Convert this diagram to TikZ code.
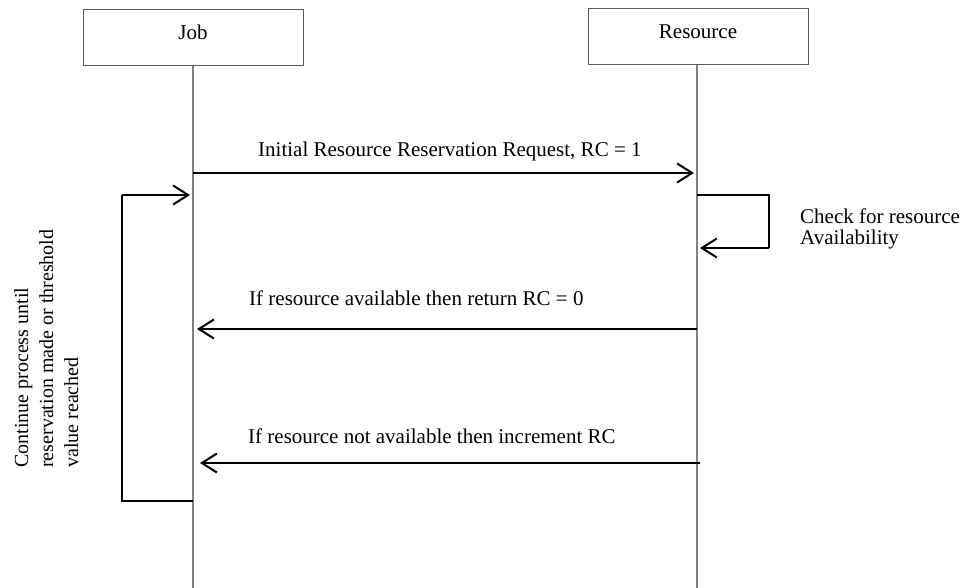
\documentclass[tikz,border=0pt]{standalone}
\usepackage{fontspec}
\setmainfont{Liberation Serif}
\usetikzlibrary{arrows.meta}
\definecolor{lifegray}{RGB}{128,128,128}
\definecolor{boxgray}{RGB}{90,90,90}
\begin{document}
\begin{tikzpicture}[x=1pt,y=-1pt,
  lane/.style={draw=boxgray, line width=1pt, minimum width=220pt, minimum height=56pt,
    inner sep=0pt, text height=14pt, text depth=10pt, font=\fontsize{21}{25}\selectfont},
  life/.style={draw=lifegray, line width=1.3pt},
  msg/.style={line width=2pt, -{Straight Barb[length=15pt,width=19pt,line width=2pt]}},
  loopline/.style={line width=1.1pt},
  lbl/.style={anchor=base west, inner sep=0pt, font=\fontsize{21}{25}\selectfont}]
\useasboundingbox (0,0) rectangle (965,588);

% lanes
\node[lane] (job) at (193,38) {Job};
\node[lane] (res) at (698,37) {Resource};
\coordinate (jobend) at (193,588);
\coordinate (resend) at (697,588);
\draw[life] (job.south) -- (jobend);
\draw[life] (res.south -| resend) -- (resend);

% message 1
\coordinate (m1s) at (193,173);
\coordinate (m1e) at (694,173);
\draw[msg] (m1s) -- (m1e);
\node[lbl] (l1) at (258,157) {Initial Resource Reservation Request, RC = 1};

% self loop on resource
\coordinate (s1) at (697,195);
\coordinate (s2) at (769,195);
\coordinate (s3) at (769,248);
\coordinate (s4) at (700,248);
\draw[loopline] (s1) -- (s2) -- (s3);
\draw[msg] (s3) -- (s4);
\node[lbl] (chk1) at (800,223) {Check for resource};
\node[lbl] (chk2) at (800,244) {Availability};

% message 2
\coordinate (m2s) at (697,329);
\coordinate (m2e) at (197,329);
\draw[msg] (m2s) -- (m2e);
\node[lbl] (l2) at (249,305) {If resource available then return RC = 0};

% message 3
\coordinate (m3s) at (700,463);
\coordinate (m3e) at (200,463);
\draw[msg] (m3s) -- (m3e);
\node[lbl] (l3) at (248,443) {If resource not available then increment RC};

% loop on job
\coordinate (j1) at (193,501);
\coordinate (j2) at (122,501);
\coordinate (j3) at (122,195);
\coordinate (j4) at (190,195);
\draw[loopline] (j1) -- (j2) -- (j3);
\draw[msg] (j3) -- (j4);
\node[rotate=90, anchor=north west, inner sep=0pt, align=left,
  font=\fontsize{20}{25}\selectfont] (note) at (14,468)
  {Continue process until\\reservation made or threshold\\value reached};
\end{tikzpicture}
\end{document}
